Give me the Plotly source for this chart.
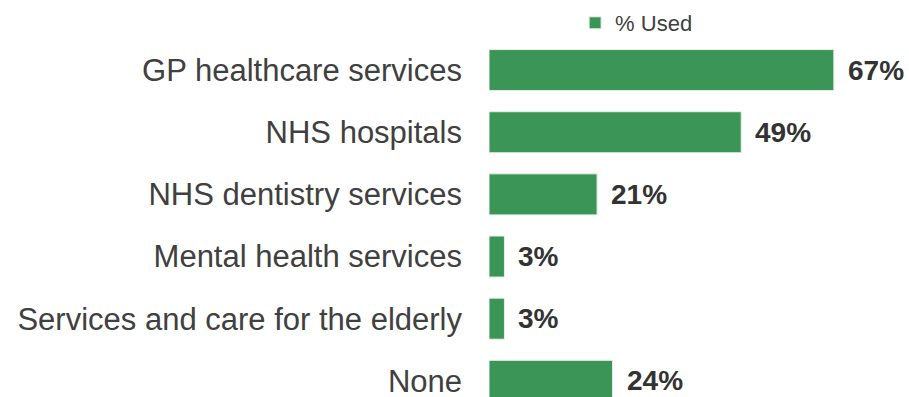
import plotly.graph_objects as go

categories = ["GP healthcare services", "NHS hospitals", "NHS dentistry services",
              "Mental health services", "Services and care for the elderly", "None"]
values = [67, 49, 21, 3, 3, 24]
series_name = "% Used"

fig = go.Figure()
fig.add_trace(go.Bar(
    y=categories, x=values, orientation="h", name=series_name,
    marker=dict(color="#3B9556", line=dict(color="#E6F0E8", width=1)),
    showlegend=True,
))
for c, v in zip(categories, values):
    fig.add_annotation(x=v, y=c, xref="x", yref="y", text=f"{v}%", showarrow=False,
                       xanchor="left", yanchor="middle", xshift=12,
                       font=dict(family="Liberation Sans", size=28, color="#333333", weight="bold"))
fig.update_layout(
    width=909, height=397,
    margin=dict(l=489, r=0, t=39, b=0, autoexpand=False),
    plot_bgcolor="white", paper_bgcolor="white",
    bargap=0.34,
    font=dict(family="Liberation Sans", color="#404040"),
    showlegend=True,
    legend=dict(orientation="h", x=0.205, xanchor="left",
                yref="container", y=1 - 23 / 397, yanchor="middle",
                font=dict(size=22, color="#404040"), itemwidth=30),
    xaxis=dict(range=[0, 81.6], visible=False, fixedrange=True),
    yaxis=dict(range=[5.26, -0.5], showgrid=False, showline=False, ticks="",
               tickfont=dict(size=31, color="#404040"), ticklabelstandoff=26),
)
fig.write_html("out.html")
